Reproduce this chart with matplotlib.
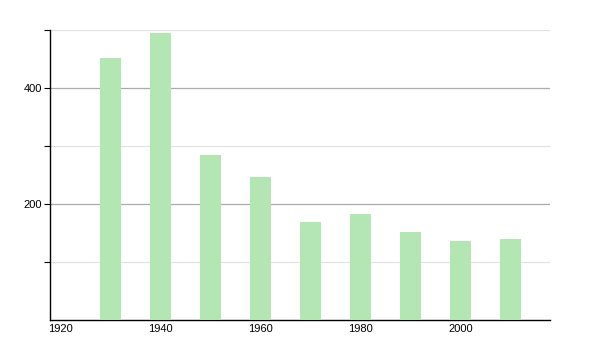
import matplotlib
matplotlib.use('Agg')
import matplotlib.pyplot as plt
import matplotlib.transforms as mtransforms

plt.rcParams['font.family'] = ['Liberation Sans', 'DejaVu Sans']

# population by decade
years = [1930, 1940, 1950, 1960, 1970, 1980, 1990, 2000, 2010]
values = [451, 495, 285, 247, 169, 183, 152, 137, 140]
x_ticks = [1920, 1940, 1960, 1980, 2000]
y_major = [200, 400]
y_minor = [100, 300, 500]

fig = plt.figure(figsize=(6, 3.5), dpi=100)
ax = fig.add_axes([50 / 600, 30 / 350, 500 / 600, 290 / 350])

ax.bar(years, values, width=4.2, align='edge', color='#b3e6b3', zorder=3)

ax.set_xlim(1920, 2020)
ax.set_ylim(0, 500)

# grid lines: darker for labelled ticks, light for the others
for v in y_major:
    ax.axhline(v, color='#aaaaaa', lw=0.9, zorder=1)
for v in y_minor:
    ax.axhline(v, color='#e2e2e2', lw=0.9, zorder=1)

ax.set_yticks(y_major)
ax.set_yticks(y_minor, minor=True)
ax.tick_params(axis='y', which='both', direction='out', length=4, width=0.8,
               labelsize=8, pad=2)
ax.set_xticks(x_ticks)
ax.set_xticklabels([str(t) for t in x_ticks], ha='left')
ax.tick_params(axis='x', length=0, labelsize=8, pad=3)
# nudge x labels a touch left, like the original
shift = mtransforms.ScaledTranslation(-2 / 100, 0, fig.dpi_scale_trans)
for lbl in ax.get_xticklabels():
    lbl.set_transform(lbl.get_transform() + shift)

ax.spines['top'].set_visible(False)
ax.spines['right'].set_visible(False)
ax.spines['left'].set_linewidth(1.0)
ax.spines['bottom'].set_linewidth(1.0)

fig.savefig('out.png', dpi=100)
